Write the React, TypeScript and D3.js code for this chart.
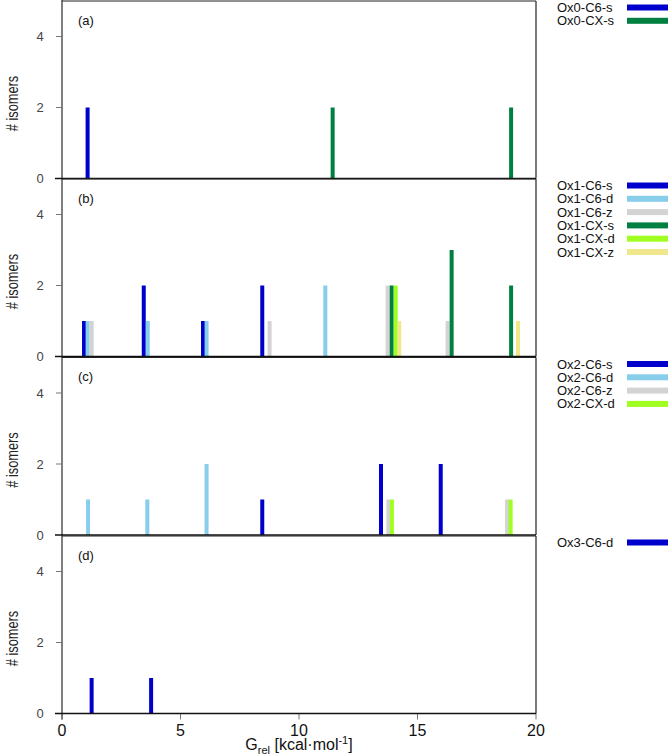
import React from "react";
import * as d3 from "d3";

// Ox0 panel (a)
const ox0C6s = [{ g: 1.08, n: 2 }];
const ox0CXs = [{ g: 11.42, n: 2 }, { g: 18.95, n: 2 }];

// Ox1 panel (b)
const ox1C6s = [{ g: 0.93, n: 1 }, { g: 3.45, n: 2 }, { g: 5.95, n: 1 }, { g: 8.45, n: 2 }];
const ox1C6d = [{ g: 1.08, n: 1 }, { g: 3.62, n: 1 }, { g: 6.1, n: 1 }, { g: 11.11, n: 2 }];
const ox1C6z = [{ g: 1.25, n: 1 }, { g: 8.76, n: 1 }, { g: 13.74, n: 2 }, { g: 16.27, n: 1 }];
const ox1CXs = [{ g: 13.91, n: 2 }, { g: 16.44, n: 3 }, { g: 18.95, n: 2 }];
const ox1CXd = [{ g: 14.08, n: 2 }];
const ox1CXz = [{ g: 14.23, n: 1 }, { g: 19.24, n: 1 }];

// Ox2 panel (c)
const ox2C6s = [{ g: 8.45, n: 1 }, { g: 13.46, n: 2 }, { g: 15.98, n: 2 }];
const ox2C6d = [{ g: 1.1, n: 1 }, { g: 3.6, n: 1 }, { g: 6.1, n: 2 }];
const ox2C6z = [{ g: 13.77, n: 1 }, { g: 18.78, n: 1 }];
const ox2CXd = [{ g: 13.92, n: 1 }, { g: 18.93, n: 1 }];

// Ox3 panel (d)
const ox3C6d = [{ g: 1.25, n: 1 }, { g: 3.76, n: 1 }];

const xTicks = [0, 5, 10, 15, 20];
const yTicks = [0, 2, 4];
const panelLabels = ["(a)", "(b)", "(c)", "(d)"];

const C = {
  blue: "#0000cd",
  sky: "#87ceeb",
  gray: "#d3d3d3",
  green: "#008040",
  lime: "#a0ff20",
  khaki: "#f0e68c",
};

const panels = [
  [
    { name: "Ox0-C6-s", color: C.blue, data: ox0C6s },
    { name: "Ox0-CX-s", color: C.green, data: ox0CXs },
  ],
  [
    { name: "Ox1-C6-s", color: C.blue, data: ox1C6s },
    { name: "Ox1-C6-d", color: C.sky, data: ox1C6d },
    { name: "Ox1-C6-z", color: C.gray, data: ox1C6z },
    { name: "Ox1-CX-s", color: C.green, data: ox1CXs },
    { name: "Ox1-CX-d", color: C.lime, data: ox1CXd },
    { name: "Ox1-CX-z", color: C.khaki, data: ox1CXz },
  ],
  [
    { name: "Ox2-C6-s", color: C.blue, data: ox2C6s },
    { name: "Ox2-C6-d", color: C.sky, data: ox2C6d },
    { name: "Ox2-C6-z", color: C.gray, data: ox2C6z },
    { name: "Ox2-CX-d", color: C.lime, data: ox2CXd },
  ],
  [{ name: "Ox3-C6-d", color: C.blue, data: ox3C6d }],
];

const W = 670;
const H = 756;
const left = 62;
const right = 536;
const panelTops = [1, 179, 357.5, 536];
const panelH = 177.5;
const barW = 4;
const font = "'Liberation Sans', Arial, Helvetica, sans-serif";

export default function App() {
  const x = d3.scaleLinear().domain([0, 20]).range([left, right]);
  const bottom = panelTops[3] + panelH;
  return (
    <div style={{ position: "absolute", left: 0, top: 0 }}>
      <svg width={W} height={H} style={{ display: "block", background: "#fff" }} fontFamily={font}>
        {/* continuous left axis */}
        <line x1={left} x2={left} y1={0} y2={bottom + 6} stroke="#555" strokeWidth={1.5} />
        {/* x ticks */}
        {xTicks.map((t) => (
          <line key={"xt" + t} x1={x(t)} x2={x(t)} y1={bottom} y2={bottom + 6} stroke="#777" strokeWidth={1} />
        ))}
        {panels.map((series, pi) => {
          const top = panelTops[pi];
          const y = d3.scaleLinear().domain([0, 5]).range([top + panelH, top]);
          return (
            <g key={pi}>
              {/* frame top/right */}
              <line x1={left} x2={right} y1={top} y2={top} stroke="#222" strokeWidth={1.2} />
              <line x1={right} x2={right} y1={top} y2={top + panelH} stroke="#222" strokeWidth={1.2} />
              {/* y ticks */}
              {yTicks.map((t) => (
                <g key={t}>
                  {t !== 0 && (
                    <line x1={left - 6} x2={left} y1={y(t)} y2={y(t)} stroke="#777" strokeWidth={1} />
                  )}
                  <text x={40} y={y(t)} dy="0.35em" textAnchor="middle" fontSize={13} fill="#444">
                    {t}
                  </text>
                </g>
              ))}
              {/* y label */}
              <text
                transform={`translate(18,${y(2) - 4}) rotate(-90) scale(0.8,1)`}
                textAnchor="middle"
                fontSize={16}
                fill="#222"
              >
                # isomers
              </text>
              {/* panel label */}
              <text x={78} y={top + 19} dy="0.35em" fontSize={13} fill="#111">
                {panelLabels[pi]}
              </text>
              {/* bars */}
              {series.map((s) =>
                s.data.map((d, i) => (
                  <rect
                    key={s.name + i}
                    x={x(d.g) - barW / 2}
                    y={y(d.n)}
                    width={barW}
                    height={y(0) - y(d.n)}
                    fill={s.color}
                  />
                ))
              )}
              {/* baseline */}
              <line x1={left - 7} x2={right} y1={y(0)} y2={y(0)} stroke="#111" strokeWidth={1.6} />
              {/* legend */}
              {series.map((s, li) => {
                const ly = top + 6.5 + li * 13.3;
                return (
                  <g key={s.name}>
                    <text x={557} y={ly} dy="0.35em" fontSize={13} fill="#111">
                      {s.name}
                    </text>
                    <rect x={627} y={ly - 3} width={41} height={6} fill={s.color} />
                  </g>
                );
              })}
            </g>
          );
        })}
        {/* x tick labels */}
        {xTicks.map((t) => (
          <text key={t} x={x(t)} y={730} dy="0.35em" textAnchor="middle" fontSize={16} fill="#111">
            {t}
          </text>
        ))}
        <text x={299} y={750} textAnchor="middle" fontSize={16} fill="#111">
          G<tspan fontSize={11} dy={4}>rel</tspan>
          <tspan dy={-4}> [kcal·mol</tspan>
          <tspan fontSize={11} dy={-6}>-1</tspan>
          <tspan dy={6}>]</tspan>
        </text>
      </svg>
    </div>
  );
}
